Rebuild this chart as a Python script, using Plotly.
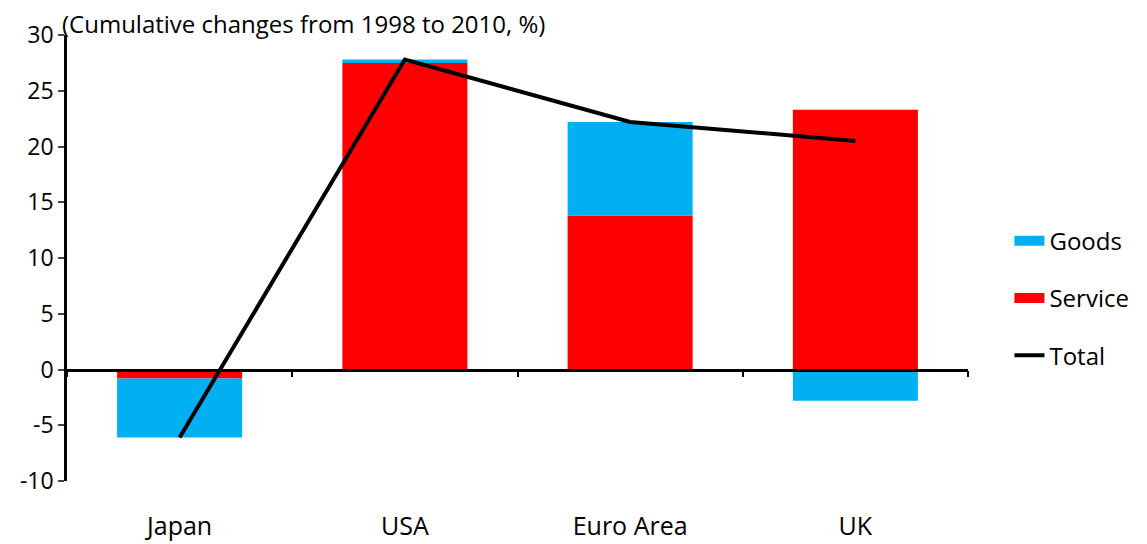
import plotly.graph_objects as go

regions = ["Japan", "USA", "Euro Area", "UK"]
service = [-0.8, 27.5, 13.8, 23.3]
goods = [-5.3, 0.3, 8.4, -2.8]
total = [-6.1, 27.8, 22.2, 20.5]

y_ticks = [-10, -5, 0, 5, 10, 15, 20, 25, 30]
y_tick_text = ["-10", "-5", "0", "5", "10", "15", "20", "25", "30"]

FONT = "Open Sans"
BLUE = "#00B0F0"
RED = "#FF0000"

fig = go.Figure()
fig.add_trace(go.Bar(x=regions, y=service, name="Service", marker_color=RED,
                     marker_line_width=0, showlegend=False))
fig.add_trace(go.Bar(x=regions, y=goods, name="Goods", marker_color=BLUE,
                     marker_line_width=0, showlegend=False))
fig.add_trace(go.Scatter(x=regions, y=total, name="Total", mode="lines",
                         line=dict(color="black", width=4), legendgroup="t", legendrank=3))

# legend entries drawn as wide rectangles (thick lines)
fig.add_trace(go.Scatter(x=[None], y=[None], name="Goods", mode="lines",
                         line=dict(color=BLUE, width=17), legendgroup="g", legendrank=1))
fig.add_trace(go.Scatter(x=[None], y=[None], name="Service", mode="lines",
                         line=dict(color=RED, width=17), legendgroup="s", legendrank=2))

# invisible trace for the zero-line axis with boundary ticks
fig.add_trace(go.Scatter(x=regions, y=[0] * len(regions), xaxis="x2", mode="lines",
                         line=dict(width=0), showlegend=False, hoverinfo="skip"))

# the page body adds an 8px margin, so the figure is a bit smaller
fig.update_layout(
    width=1139, height=536,
    margin=dict(l=59, r=179, t=27, b=63),
    plot_bgcolor="white", paper_bgcolor="white",
    barmode="relative", bargap=0.445,
    font=dict(family=FONT, size=22, color="black"),
    showlegend=True,
    legend=dict(x=1.046, y=0.41, xanchor="left", yanchor="middle",
                tracegroupgap=23, font=dict(size=24)),
    xaxis=dict(showline=False, ticks="", showgrid=False, zeroline=False,
               automargin=False, ticklabelstandoff=28, tickfont=dict(size=25)),
    xaxis2=dict(overlaying="x", matches="x", anchor="free", position=0.25,
                showline=True, linecolor="black", linewidth=2.5,
                ticks="outside", tickson="boundaries", ticklen=6, tickwidth=1.5,
                tickcolor="black", showticklabels=False, showgrid=False, zeroline=False,
                automargin=False),
    yaxis=dict(range=[-10, 30], tickvals=y_ticks, ticktext=y_tick_text,
               showline=True, linecolor="black", automargin=False,
               linewidth=2.5, ticks="outside", ticklen=6, tickwidth=1.5,
               showgrid=False, zeroline=False, tickfont=dict(size=23)),
    annotations=[dict(text="(Cumulative changes from 1998 to 2010, %)", x=0, y=1,
                      xref="paper", yref="paper", xanchor="left", yanchor="bottom",
                      showarrow=False, font=dict(size=24), borderpad=0,
                      xshift=-6, yshift=-6)],
)

fig.write_html("out.html")
